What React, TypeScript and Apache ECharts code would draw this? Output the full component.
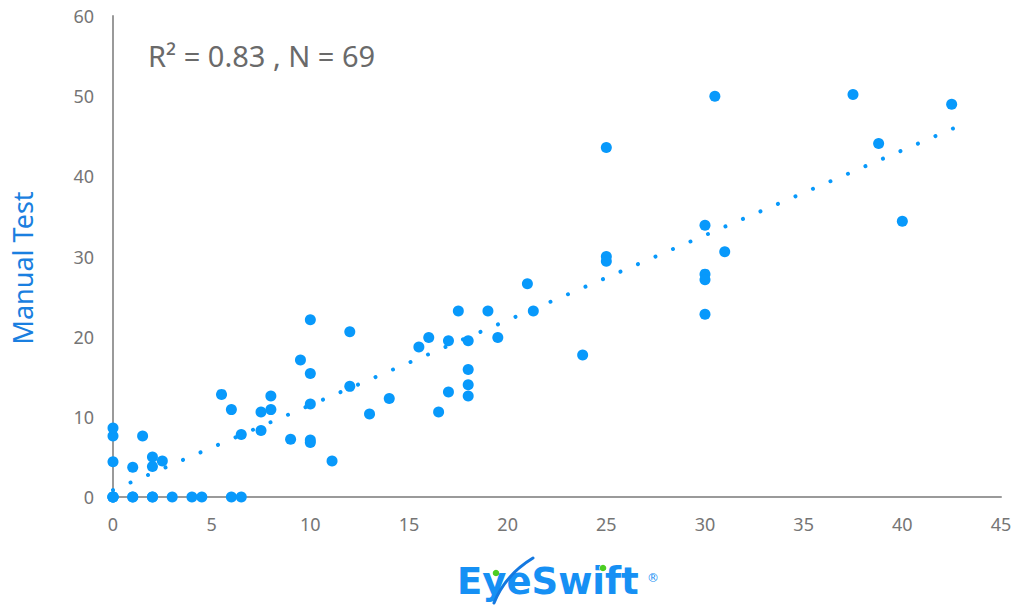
import React, { useEffect, useRef } from "react";
import * as echarts from "echarts";

const xValues = [
  0, 1, 2, 3, 4, 4.5, 6, 6.5, 0, 0, 0, 1, 2,
  0, 0, 0,
  1.5, 1, 2, 2, 2.5,
  5.5, 6, 6.5, 7.5, 8, 8, 7.5, 9, 10, 10, 11.1, 10, 12,
  10, 12, 9.5, 10, 14, 13, 16.5, 17, 18, 18, 18, 15.5, 16, 17, 18, 17.5, 19, 19.5, 21, 21.3, 23.8,
  25, 30.5, 37.5, 42.5, 38.8, 40, 30, 31, 25, 25, 30, 30, 30,
];
const yValues = [
  0, 0, 0, 0, 0, 0, 0, 0, 0, 0, 0, 0, 0,
  4.4, 7.6, 8.6,
  7.6, 3.7, 5.0, 3.8, 4.5,
  12.8, 10.9, 7.8, 10.6, 12.6, 10.9, 8.3, 7.2, 7.1, 6.8, 4.5, 11.6, 13.8,
  22.1, 20.6, 17.1, 15.4, 12.3, 10.35, 10.6, 13.1, 12.6, 14.0, 15.9, 18.7, 19.9, 19.5, 19.5, 23.2, 23.2, 19.9, 26.6, 23.2, 17.7,
  43.6, 50.0, 50.2, 49.0, 44.1, 34.4, 33.9, 30.6, 30.0, 29.4, 27.8, 27.1, 22.8,
];
const trendX = [0, 42.6];
const trendY = [0.87, 46.0];
const xTicks = [0, 45, 5];
const yTicks = [0, 60, 10];
const annotation = "R² = 0.83 , N = 69";
const yName = "Manual Test";
const logoText = "EyeSwift";

const BLUE = "#0899fb";

export default function App() {
  const ref = useRef<HTMLDivElement>(null);
  useEffect(() => {
    if (!ref.current) return;
    const chart = echarts.init(ref.current, undefined, { renderer: "svg" });
    const points = xValues.map((x, i) => [x, yValues[i]]);
    const trend = trendX.map((x, i) => [x, trendY[i]]);
    chart.setOption({
      animation: false,
      backgroundColor: "#ffffff",
      grid: { left: 113, right: 14, top: 16, bottom: 108 },
      xAxis: {
        type: "value",
        min: xTicks[0],
        max: xTicks[1],
        interval: xTicks[2],
        splitLine: { show: false },
        axisTick: { show: false },
        axisLine: { show: true, onZero: false, lineStyle: { color: "#9a9a9a", width: 2 } },
        axisLabel: { color: "#757575", fontSize: 18, margin: 18, fontFamily: "Noto Sans" },
      },
      yAxis: {
        type: "value",
        min: yTicks[0],
        max: yTicks[1],
        interval: yTicks[2],
        splitLine: { show: false },
        axisTick: { show: false },
        axisLine: { show: true, lineStyle: { color: "#9a9a9a", width: 2 } },
        axisLabel: { color: "#757575", fontSize: 18, margin: 19, fontFamily: "Noto Sans" },
      },
      series: [
        {
          type: "line",
          data: trend,
          symbol: "none",
          silent: true,
          lineStyle: { color: BLUE, width: 4, type: [0.01, 19.04], cap: "round" },
          z: 1,
        },
        {
          type: "scatter",
          data: points,
          symbol: "circle",
          symbolSize: 11,
          itemStyle: { color: BLUE, opacity: 1 },
          z: 2,
        },
      ],
      graphic: [
        {
          type: "text",
          left: 148,
          top: 41,
          style: {
            text: annotation,
            fontSize: 29,
            fontFamily: "Noto Sans",
            fill: "#6a6a6a",
          },
        },
        {
          type: "text",
          x: 22,
          y: 268,
          rotation: Math.PI / 2,
          style: {
            text: yName,
            fontSize: 27,
            fontFamily: "Noto Sans",
            fill: "#1a7fe0",
            align: "center",
            verticalAlign: "middle",
          },
        },
        {
          type: "text",
          x: 457,
          y: 581,
          style: {
            text: logoText,
            fontSize: 37,
            fontWeight: "bold",
            fontFamily: "DejaVu Sans",
            fill: "#1690f4",
            align: "left",
            verticalAlign: "middle",
          },
        },
        {
          type: "text",
          x: 647,
          y: 578,
          style: {
            text: "®",
            fontSize: 12,
            fontFamily: "DejaVu Sans",
            fill: "#1690f4",
            align: "left",
            verticalAlign: "middle",
          },
        },
        {
          type: "circle",
          shape: { cx: 603, cy: 568, r: 3.8 },
          style: { fill: "#ffffff" },
        },
        {
          type: "circle",
          shape: { cx: 603, cy: 568, r: 3.3 },
          style: { fill: "#4ccd22" },
        },
        {
          type: "bezierCurve",
          shape: { x1: 494, y1: 603, x2: 533, y2: 558, cpx1: 505, cpy1: 575 },
          style: { stroke: "#1478e0", lineWidth: 3, fill: null, lineCap: "round" },
        },
        {
          type: "circle",
          shape: { cx: 496, cy: 573, r: 3.3 },
          style: { fill: "#4ccd22" },
        },
      ],
    });
    return () => chart.dispose();
  }, []);
  return (
    <div
      ref={ref}
      style={{ position: "fixed", left: 0, top: 0, width: 1015, height: 605 }}
    />
  );
}
